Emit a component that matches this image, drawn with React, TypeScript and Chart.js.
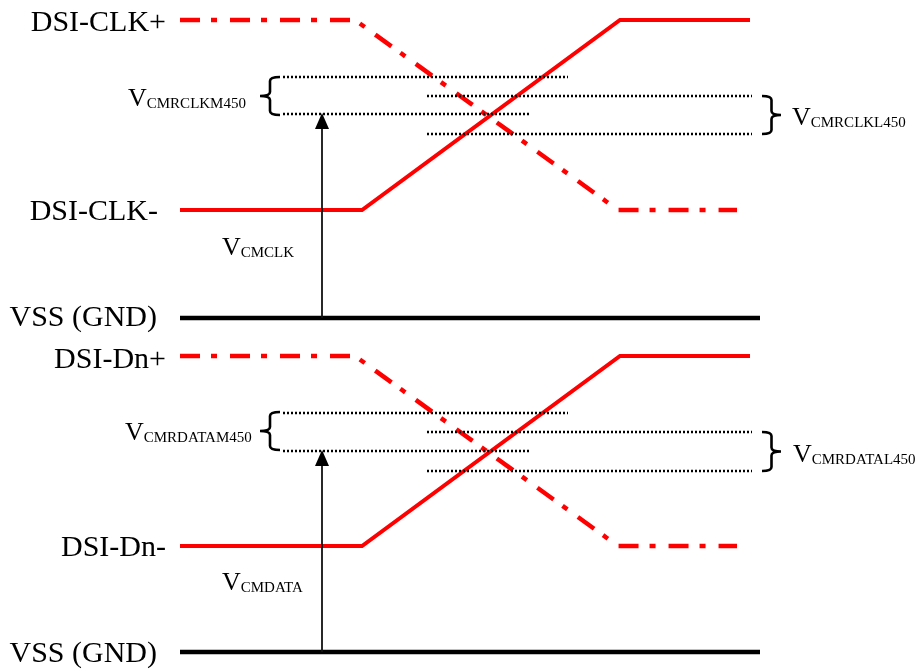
import React, { useEffect, useRef } from "react";
import { Chart, registerables } from "chart.js";

Chart.register(...registerables);

// ---- diagram data (x: time units, y: level units, top = 0) ----
const plusX = [180, 355, 618, 737];
const minusX = [180, 362, 620, 750];
const clkPlusY = [20, 20, 210, 210];
const clkMinusY = [210, 210, 20, 20];
const dnPlusY = [356, 356, 546, 546];
const dnMinusY = [546, 546, 356, 356];

const vssX = [180, 760];
const vssY = [318, 652];

const dottedStartX = [283, 427, 283, 427];
const dottedEndX = [568, 752, 530, 752];
const clkDottedY = [77, 96, 114, 134];
const dnDottedY = [413, 432, 451, 471];

const arrowX = 322;
const arrowBaseY = [318, 652];
const arrowTipY = [113, 450];

// braces: [tipX, armX], [topY, bottomY]
const leftBraceX = [260, 280];
const rightBraceX = [781, 762];
const braceClkLeftY = [77, 115];
const braceClkRightY = [96, 134];
const braceDnLeftY = [412, 450];
const braceDnRightY = [432, 471];

// text labels
const sideLabels = ["DSI-CLK+", "DSI-CLK-", "VSS (GND)", "DSI-Dn+", "DSI-Dn-", "VSS (GND)"];
const sideLabelRight = [166, 158, 157, 166, 166, 157];
const sideLabelBase = [31, 220, 326, 368, 556, 662];

const subLabelsMain = ["V", "V", "V", "V", "V", "V"];
const subLabelsSub = ["CMRCLKM450", "CMRCLKL450", "CMCLK", "CMRDATAM450", "CMRDATAL450", "CMDATA"];
const subLabelX = [128, 792, 222, 125, 793, 222];
const subLabelBase = [106, 125, 255, 440, 462, 590];

const RED = "#ff0000";
const DASHDOT = [20, 11, 6, 13];

function pts(xs: number[], ys: number[]) {
  return xs.map((x, i) => ({ x, y: ys[i] }));
}

export default function App() {
  const ref = useRef<HTMLCanvasElement | null>(null);

  useEffect(() => {
    document.body.style.margin = "0";
    const canvas = ref.current;
    if (!canvas) return;

    const lineDs = (data: any[], color: string, width: number, dash: number[] = []) => ({
      type: "line" as const,
      data,
      borderColor: color,
      backgroundColor: color,
      borderWidth: width,
      borderDash: dash,
      pointRadius: 0,
      tension: 0,
      fill: false,
      borderCapStyle: "butt" as const,
      borderJoinStyle: "miter" as const,
    });

    const datasets: any[] = [];
    // dotted reference levels
    [clkDottedY, dnDottedY].forEach((ys) => {
      ys.forEach((yv, i) => {
        datasets.push(lineDs(pts([dottedStartX[i], dottedEndX[i]], [yv, yv]), "#000", 2.5, [2, 2]));
      });
    });
    // arrows (shafts)
    arrowBaseY.forEach((b, i) => {
      datasets.push(lineDs(pts([arrowX, arrowX], [b, arrowTipY[i] + 10]), "#111", 1.8));
    });
    // waveforms
    datasets.push(lineDs(pts(plusX, clkPlusY), RED, 4.5, DASHDOT));
    datasets.push(lineDs(pts(minusX, clkMinusY), RED, 4));
    datasets.push(lineDs(pts(plusX, dnPlusY), RED, 4.5, DASHDOT));
    datasets.push(lineDs(pts(minusX, dnMinusY), RED, 4));
    // VSS lines
    vssY.forEach((yv) => {
      datasets.push(lineDs(pts(vssX, [yv, yv]), "#000", 4.5));
    });

    const overlay = {
      id: "overlay",
      afterDatasetsDraw(chart: any) {
        const { ctx, scales } = chart;
        const X = (v: number) => scales.x.getPixelForValue(v);
        const Y = (v: number) => scales.y.getPixelForValue(v);
        ctx.save();
        // arrowheads
        ctx.fillStyle = "#000";
        arrowTipY.forEach((t) => {
          ctx.beginPath();
          ctx.moveTo(X(arrowX), Y(t));
          ctx.lineTo(X(arrowX) - 7, Y(t) + 16);
          ctx.lineTo(X(arrowX) + 7, Y(t) + 16);
          ctx.closePath();
          ctx.fill();
        });
        // braces
        const brace = (tipX: number, armX: number, ys: number[]) => {
          const tx = X(tipX), ax = X(armX);
          const top = Y(ys[0]), bot = Y(ys[1]);
          const mid = (top + bot) / 2;
          const mx = (tx + ax) / 2;
          const r = 4;
          ctx.beginPath();
          ctx.moveTo(ax, top);
          ctx.quadraticCurveTo(mx, top, mx, top + r);
          ctx.lineTo(mx, mid - r);
          ctx.quadraticCurveTo(mx, mid, tx, mid);
          ctx.quadraticCurveTo(mx, mid, mx, mid + r);
          ctx.lineTo(mx, bot - r);
          ctx.quadraticCurveTo(mx, bot, ax, bot);
          ctx.strokeStyle = "#000";
          ctx.lineWidth = 2.6;
          ctx.stroke();
        };
        brace(leftBraceX[0], leftBraceX[1], braceClkLeftY);
        brace(rightBraceX[0], rightBraceX[1], braceClkRightY);
        brace(leftBraceX[0], leftBraceX[1], braceDnLeftY);
        brace(rightBraceX[0], rightBraceX[1], braceDnRightY);

        // side labels
        ctx.fillStyle = "#000";
        ctx.textBaseline = "alphabetic";
        ctx.font = '30px "Liberation Serif", "Times New Roman", serif';
        ctx.textAlign = "right";
        sideLabels.forEach((t, i) => {
          ctx.fillText(t, X(sideLabelRight[i]), Y(sideLabelBase[i]));
        });
        // subscripted labels
        ctx.textAlign = "left";
        subLabelsMain.forEach((m, i) => {
          ctx.font = '26px "Liberation Serif", "Times New Roman", serif';
          const x0 = X(subLabelX[i]);
          ctx.fillText(m, x0, Y(subLabelBase[i]));
          const w = ctx.measureText(m).width;
          ctx.font = '15px "Liberation Serif", "Times New Roman", serif';
          ctx.fillText(subLabelsSub[i], x0 + w, Y(subLabelBase[i] + 1.5));
        });
        ctx.restore();
      },
    };

    const chart = new Chart(canvas, {
      type: "line",
      data: { datasets },
      options: {
        animation: false,
        responsive: false,
        devicePixelRatio: 1,
        parsing: false as any,
        layout: { padding: 0 },
        plugins: { legend: { display: false }, tooltip: { enabled: false } },
        scales: {
          x: { type: "linear", min: 0, max: 921, display: false },
          y: { type: "linear", min: 0, max: 671, reverse: true, display: false },
        },
      },
      plugins: [overlay],
    });
    return () => chart.destroy();
  }, []);

  return (
    <div style={{ width: 921, height: 671, background: "#fff" }}>
      <canvas ref={ref} width={921} height={671} style={{ display: "block" }} />
    </div>
  );
}
